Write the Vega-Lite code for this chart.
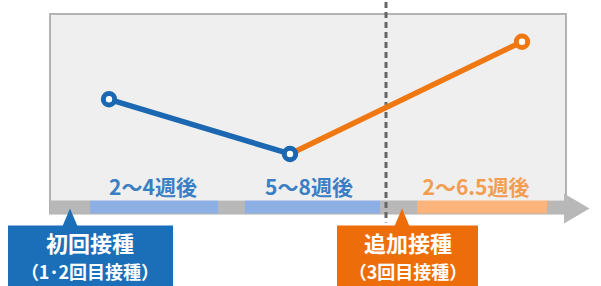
{
  "$schema": "https://vega.github.io/schema/vega-lite/v6.json",
  "width": 601,
  "height": 286,
  "padding": 0,
  "autosize": {"type": "fit", "contains": "padding"},
  "config": {"view": {"stroke": null}},
  "resolve": {"scale": {"color": "independent", "fill": "independent", "stroke": "independent", "size": "independent"}},
  "layer": [
    {
      "data": {"values": [{"x": 50, "x2": 566, "y": 12, "y2": 213}]},
      "mark": {"type": "rect", "fill": "#efefef", "stroke": "#b3b3b3", "strokeWidth": 2},
      "encoding": {
        "x": {"field": "x", "type": "quantitative", "scale": {"domain": [0, 601], "nice": false, "zero": false}, "axis": null},
        "x2": {"field": "x2"},
        "y": {"field": "y", "type": "quantitative", "scale": {"domain": [0, 286], "nice": false, "zero": false, "reverse": true}, "axis": null},
        "y2": {"field": "y2"}
      }
    },
    {
      "data": {"values": [
        {"x": 50, "x2": 90, "phase": "none"},
        {"x": 90, "x2": 218, "phase": "primary"},
        {"x": 218, "x2": 245, "phase": "none"},
        {"x": 245, "x2": 380, "phase": "primary"},
        {"x": 380, "x2": 417, "phase": "none"},
        {"x": 417, "x2": 547, "phase": "booster"},
        {"x": 547, "x2": 566, "phase": "none"}
      ]},
      "transform": [{"calculate": "200", "as": "y"}, {"calculate": "213", "as": "y2"}],
      "mark": {"type": "rect"},
      "encoding": {
        "x": {"field": "x", "type": "quantitative", "axis": null},
        "x2": {"field": "x2"},
        "y": {"field": "y", "type": "quantitative", "axis": null},
        "y2": {"field": "y2"},
        "fill": {"field": "phase", "type": "nominal", "legend": null,
          "scale": {"domain": ["none", "primary", "booster"], "range": ["#b8b8b8", "#8eafe3", "#fbb57c"]}}
      }
    },
    {
      "data": {"values": [{"x": 576, "y": 208}]},
      "mark": {"type": "point", "shape": "M-0.8,-1L0.9,0L-0.8,1Z", "size": 900, "filled": true, "fill": "#b8b8b8", "opacity": 1, "strokeWidth": 0},
      "encoding": {
        "x": {"field": "x", "type": "quantitative", "axis": null},
        "y": {"field": "y", "type": "quantitative", "axis": null}
      }
    },
    {
      "data": {"values": [{"x": 386, "y": 0, "y2": 222}]},
      "mark": {"type": "rule", "stroke": "#666666", "strokeWidth": 3, "strokeDash": [6, 4]},
      "encoding": {
        "x": {"field": "x", "type": "quantitative", "axis": null},
        "y": {"field": "y", "type": "quantitative", "axis": null},
        "y2": {"field": "y2"}
      }
    },
    {
      "data": {"values": [
        {"x": 109, "y": 98, "phase": "primary"},
        {"x": 290, "y": 153, "phase": "primary"},
        {"x": 290, "y": 153, "phase": "booster"},
        {"x": 522, "y": 40, "phase": "booster"}
      ]},
      "mark": {"type": "line", "strokeWidth": 5.5, "strokeCap": "round"},
      "encoding": {
        "x": {"field": "x", "type": "quantitative", "axis": null},
        "y": {"field": "y", "type": "quantitative", "axis": null},
        "stroke": {"field": "phase", "type": "nominal", "legend": null,
          "scale": {"domain": ["primary", "booster"], "range": ["#1b67b1", "#f07813"]}}
      }
    },
    {
      "data": {"values": [
        {"x": 109, "y": 98, "phase": "primary"},
        {"x": 290, "y": 153, "phase": "primary"},
        {"x": 522, "y": 40, "phase": "booster"}
      ]},
      "mark": {"type": "point", "shape": "circle", "size": 130, "filled": false, "fill": "white", "fillOpacity": 1, "opacity": 1, "strokeWidth": 5},
      "encoding": {
        "x": {"field": "x", "type": "quantitative", "axis": null},
        "y": {"field": "y", "type": "quantitative", "axis": null},
        "stroke": {"field": "phase", "type": "nominal", "legend": null,
          "scale": {"domain": ["primary", "booster"], "range": ["#1b67b1", "#f07813"]}}
      }
    },
    {
      "data": {"values": [
        {"x": 153, "y": 188, "label": "2〜4週後", "phase": "primary"},
        {"x": 309, "y": 188, "label": "5〜8週後", "phase": "primary"},
        {"x": 476, "y": 188, "label": "2〜6.5週後", "phase": "booster"}
      ]},
      "mark": {"type": "text", "font": "Noto Sans CJK JP", "fontWeight": "bold", "fontSize": 21, "align": "center", "baseline": "middle"},
      "encoding": {
        "x": {"field": "x", "type": "quantitative", "axis": null},
        "y": {"field": "y", "type": "quantitative", "axis": null},
        "text": {"field": "label"},
        "color": {"field": "phase", "type": "nominal", "legend": null,
          "scale": {"domain": ["primary", "booster"], "range": ["#3a7ec4", "#f39d50"]}}
      }
    },
    {
      "data": {"values": [
        {"x": 8, "x2": 173, "y": 225, "y2": 286, "phase": "primary"},
        {"x": 337, "x2": 478, "y": 225, "y2": 286, "phase": "booster"}
      ]},
      "mark": {"type": "rect"},
      "encoding": {
        "x": {"field": "x", "type": "quantitative", "axis": null},
        "x2": {"field": "x2"},
        "y": {"field": "y", "type": "quantitative", "axis": null},
        "y2": {"field": "y2"},
        "fill": {"field": "phase", "type": "nominal", "legend": null,
          "scale": {"domain": ["primary", "booster"], "range": ["#1a6fb8", "#ee6d0b"]}}
      }
    },
    {
      "data": {"values": [
        {"x": 70, "y": 217, "phase": "primary"},
        {"x": 402, "y": 217, "phase": "booster"}
      ]},
      "mark": {"type": "point", "shape": "M0,-1L0.85,1L-0.85,1Z", "size": 324, "filled": true, "opacity": 1, "strokeWidth": 0},
      "encoding": {
        "x": {"field": "x", "type": "quantitative", "axis": null},
        "y": {"field": "y", "type": "quantitative", "axis": null},
        "fill": {"field": "phase", "type": "nominal", "legend": null,
          "scale": {"domain": ["primary", "booster"], "range": ["#1a6fb8", "#ee6d0b"]}}
      }
    },
    {
      "data": {"values": [
        {"x": 90, "y": 245, "label": "初回接種"},
        {"x": 408, "y": 245, "label": "追加接種"}
      ]},
      "mark": {"type": "text", "font": "Noto Sans CJK JP", "fontWeight": "bold", "fontSize": 22, "color": "white", "align": "center", "baseline": "middle"},
      "encoding": {
        "x": {"field": "x", "type": "quantitative", "axis": null},
        "y": {"field": "y", "type": "quantitative", "axis": null},
        "text": {"field": "label"}
      }
    },
    {
      "data": {"values": [
        {"x": 90, "y": 274, "label": "（1･2回目接種）"},
        {"x": 408, "y": 274, "label": "（3回目接種）"}
      ]},
      "mark": {"type": "text", "font": "Noto Sans CJK JP", "fontWeight": "bold", "fontSize": 18, "color": "white", "align": "center", "baseline": "middle"},
      "encoding": {
        "x": {"field": "x", "type": "quantitative", "axis": null},
        "y": {"field": "y", "type": "quantitative", "axis": null},
        "text": {"field": "label"}
      }
    }
  ]
}
